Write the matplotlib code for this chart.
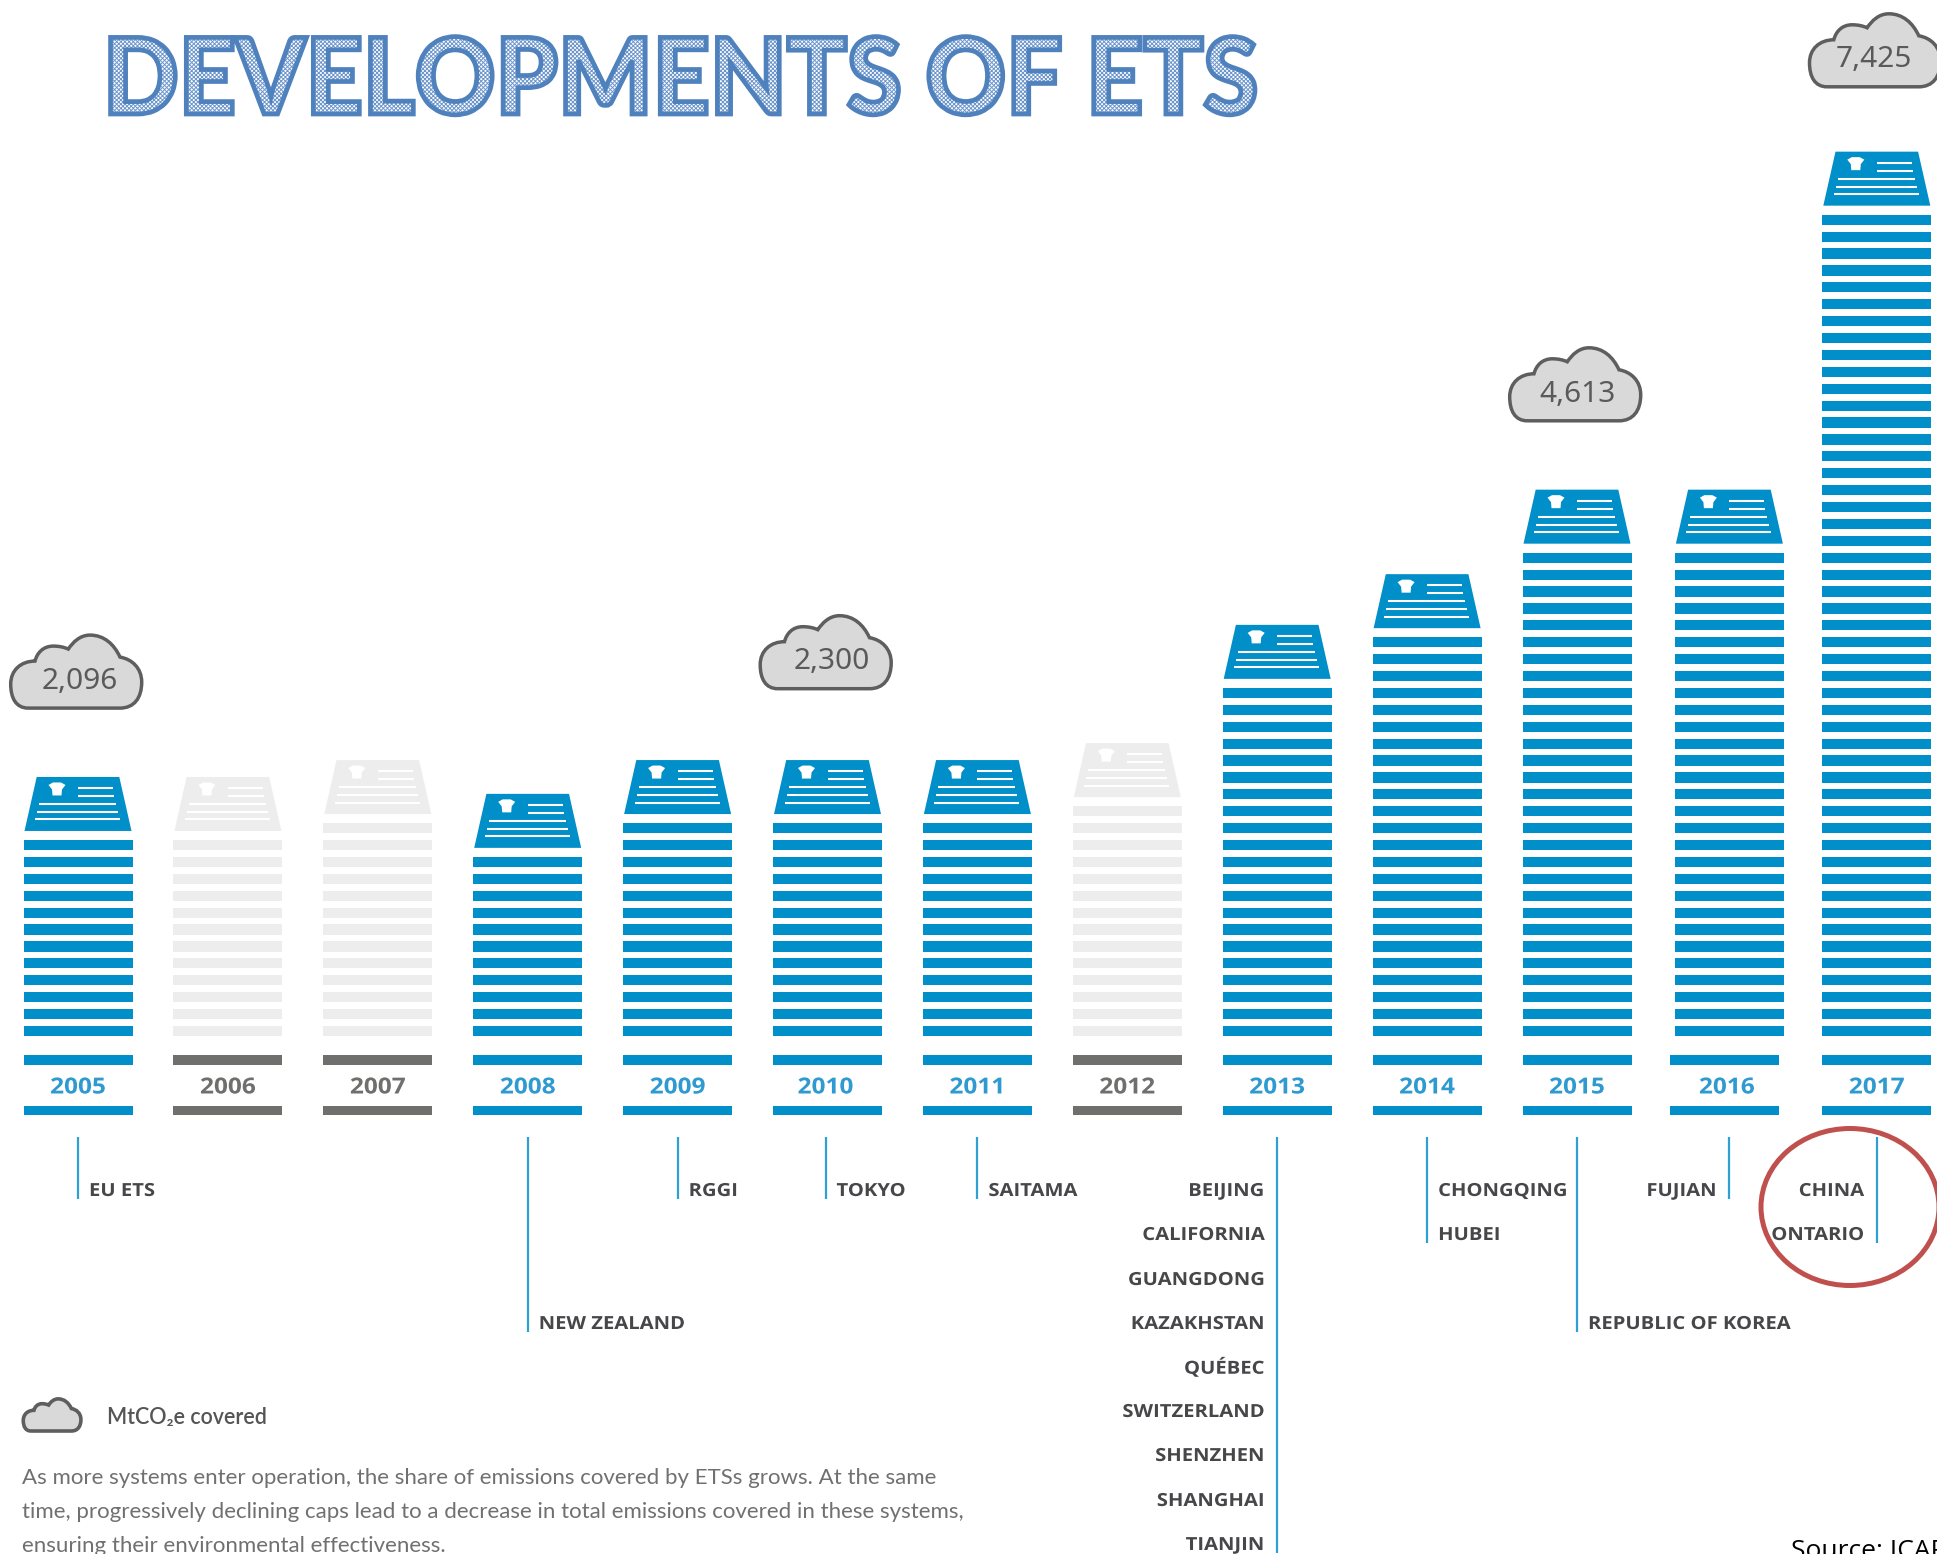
import matplotlib
matplotlib.use("Agg")
import matplotlib.pyplot as plt
import matplotlib.patheffects as pe
from matplotlib.patches import Ellipse, PathPatch, Polygon
from matplotlib.path import Path
from matplotlib.transforms import Affine2D

# datos
years = [2005, 2006, 2007, 2008, 2009, 2010, 2011, 2012, 2013, 2014, 2015, 2016, 2017]
sheets = [12, 12, 13, 11, 13, 13, 13, 14, 21, 24, 29, 29, 49]
covered_years = [2005, 2010, 2015, 2017]
covered_labels = ["2,096", "2,300", "4,613", "7,425"]

systems_2005 = ["EU ETS"]
systems_2008 = ["NEW ZEALAND"]
systems_2009 = ["RGGI"]
systems_2010 = ["TOKYO"]
systems_2011 = ["SAITAMA"]
systems_2013 = ["BEIJING", "CALIFORNIA", "GUANGDONG", "KAZAKHSTAN", "QUÉBEC",
                "SWITZERLAND", "SHENZHEN", "SHANGHAI", "TIANJIN"]
systems_2014 = ["CHONGQING", "HUBEI"]
systems_2015 = ["REPUBLIC OF KOREA"]
systems_2016 = ["FUJIAN"]
systems_2017 = ["CHINA", "ONTARIO"]
new_systems = {2005: systems_2005, 2008: systems_2008, 2009: systems_2009, 2010: systems_2010,
               2011: systems_2011, 2013: systems_2013, 2014: systems_2014, 2015: systems_2015,
               2016: systems_2016, 2017: systems_2017}

BLUE = "#008FC8"
BLUE_TXT = "#2F9AD0"
LIGHT = "#EDEDED"
DARK = "#6F6F6E"
NAME_COL = "#47474A"

# escala: 149.9 px por anio, 16.9 px por hoja
PX_YEAR = 149.9
PX_SHEET = 16.9
X0 = 78
Y0 = 1036
W, H = 1937, 1554

plt.rcParams["hatch.linewidth"] = 0.7

fig = plt.figure(figsize=(W / 100, H / 100), dpi=100)
ax = fig.add_axes([0, 0, 1, 1])
ax.set_xlim(2005 - X0 / PX_YEAR, 2005 + (W - X0) / PX_YEAR)
ax.set_ylim((Y0 - H) / PX_SHEET, Y0 / PX_SHEET)
ax.axis("off")

# capa en pixeles para textos y nubes
px = fig.add_axes([0, 0, 1, 1])
px.set_xlim(0, W)
px.set_ylim(H, 0)
px.axis("off")
px.patch.set_alpha(0)


class ScaleX(pe.AbstractPathEffect):
    # estira el texto a lo ancho, las fuentes del original no estan instaladas
    def __init__(self, sx, x0, inner=None):
        super().__init__()
        self.sx = sx
        self.x0 = x0
        self.inner = inner if inner else pe.Normal()

    def draw_path(self, renderer, gc, tpath, affine, rgbFace=None):
        stretch = Affine2D().translate(-self.x0, 0).scale(self.sx, 1).translate(self.x0, 0)
        self.inner.draw_path(renderer, gc, tpath, affine + stretch, rgbFace)


def year_x(year):
    return X0 + (year - 2005) * PX_YEAR


def draw_sheet(year, n, color):
    # la hoja de arriba de cada pila, medidas en px desde su base
    base = n - 1 + 0.6 + 9 / PX_SHEET

    def pt(dx, dy):
        return (year + dx / PX_YEAR, base + dy / PX_SHEET)

    ax.add_patch(Polygon([pt(-53.5, 0), pt(53.5, 0), pt(41.3, 54), pt(-41.3, 54)],
                         closed=True, fc=color, ec="none"))
    for x1, x2, dy in [(0, 35, 43), (0, 36, 35), (-39, 38, 27), (-41, 40, 19), (-43, 42, 11.5)]:
        ax.plot([year + x1 / PX_YEAR, year + x2 / PX_YEAR],
                [base + dy / PX_SHEET, base + dy / PX_SHEET],
                color="white", lw=1.5, solid_capstyle="butt")
    star = [(-8.5, 4), (-4, 6.5), (4, 6.5), (8.5, 4), (5, -0.5), (4.5, -6.5), (-4.5, -6.5), (-5, -0.5)]
    ax.add_patch(Polygon([pt(x - 21, y + 42) for x, y in star], closed=True, fc="white", ec="none"))


# corrimientos pequenos del original, en px
label_shift = {2010: -2, 2016: 2.5}

for year, n in zip(years, sheets):
    active = year in new_systems
    stripe_col = BLUE if active else LIGHT
    base_col = BLUE if active else DARK
    # 2016 esta un poco corrido en el original
    stack_x = year + (2.5 / PX_YEAR if year == 2016 else 0)
    base_x = year - (2 / PX_YEAR if year == 2016 else 0)
    ax.bar([stack_x] * n, [0.6] * n, width=109 / PX_YEAR, bottom=list(range(n)),
           color=stripe_col, linewidth=0)
    ax.bar(base_x, 9.5 / PX_SHEET, width=109 / PX_YEAR, bottom=(Y0 - 1064.5) / PX_SHEET,
           color=base_col, linewidth=0)
    ax.bar(base_x, 9.5 / PX_SHEET, width=109 / PX_YEAR, bottom=(Y0 - 1115) / PX_SHEET,
           color=base_col, linewidth=0)
    draw_sheet(stack_x, n, stripe_col)
    tx = year_x(year) + (-2 if year == 2010 else 0)
    t = px.text(tx, 1088, str(year), ha="center", va="center", fontsize=16,
                family="Open Sans", fontweight="bold", color=BLUE_TXT if active else DARK)
    t.set_path_effects([ScaleX(1.1, tx)])

# nubes
cloud_verts = [(-47.7, 0), (44, 0),
               (58, 0), (65.7, 10), (65.7, 26),
               (65.7, 40), (56, 49), (44, 51),
               (38, 64), (28, 73), (14, 73),
               (4, 73), (-3, 66), (-7.7, 59),
               (-12, 61), (-17, 62), (-22.7, 62),
               (-33, 62), (-39, 55), (-41, 47),
               (-55, 47), (-65.3, 38), (-65.3, 24),
               (-65.3, 10), (-60, 0), (-47.7, 0)]
cloud_codes = [Path.MOVETO, Path.LINETO] + [Path.CURVE4] * 24
cloud_dy = {2010: -2.5, 2017: 4}
cloud_text_dx = {2005: 2, 2010: 4, 2015: 0, 2017: -3}
cloud_text_dy = {2015: 1}


def draw_cloud(cx, bottom, scale=1.0, lw=2.5):
    verts = [(cx + x * scale, bottom - y * scale) for x, y in cloud_verts]
    px.add_patch(PathPatch(Path(verts, cloud_codes), fc="#D9D9D9", ec="#5E5E5E", lw=lw, clip_on=False))


for year, label in zip(covered_years, covered_labels):
    n = sheets[years.index(year)]
    sheet_top = Y0 - (n - 1) * PX_SHEET - 10 - 9 - 54
    bottom = sheet_top - 69 + cloud_dy.get(year, 0)
    draw_cloud(year_x(year) - 2, bottom)
    px.text(year_x(year) + cloud_text_dx[year], bottom - 27 + cloud_text_dy.get(year, 0), label,
            ha="center", va="center", fontsize=21.5, family="Noto Sans", color="#5A5A5A")

# lineas y nombres de los sistemas
row_y = [1191, 1235, 1280, 1324, 1368, 1412, 1456, 1501, 1545]
first_row = {2008: 3, 2015: 3}
right_side = [2013, 2016, 2017]
for year, names in new_systems.items():
    x = year_x(year) + label_shift.get(year, 0)
    start = first_row.get(year, 0)
    last = start + len(names) - 1
    px.plot([x, x], [1137, min(row_y[last] + 8, H)], color="#2FA0D2", lw=1.6, solid_capstyle="butt")
    for i, name in enumerate(names):
        if year in right_side:
            tx = x - 13
            align = "right"
        else:
            tx = x + 11
            align = "left"
        t = px.text(tx, row_y[start + i], name, ha=align, va="center", fontsize=13,
                    family="Open Sans", fontweight="bold", color=NAME_COL)
        t.set_path_effects([ScaleX(1.12, tx)])

# circulo rojo alrededor de 2017
px.add_patch(Ellipse((1850, 1207), 178, 157, fc="none", ec="#C0504D", lw=3.6, clip_on=False))

# leyenda y nota
draw_cloud(52, 1431, scale=0.44, lw=2.6)
px.text(107, 1418, "MtCO₂e covered", ha="left", va="center", fontsize=15.5,
        family=["Lato", "Noto Sans"], fontweight="semibold", color="#555555")
note_lines = ["As more systems enter operation, the share of emissions covered by ETSs grows. At the same",
              "time, progressively declining caps lead to a decrease in total emissions covered in these systems,",
              "ensuring their environmental effectiveness."]
for y, line in zip([1478, 1512, 1546], note_lines):
    px.text(22, y, line, ha="left", va="center", fontsize=16, family="Lato", color="#707070")

px.text(1791, 1558, "Source: ICAP", ha="left", va="baseline", fontsize=19, family="Open Sans", color="black")

# titulo
title = px.text(103, 114, "DEVELOPMENTS OF ETS", ha="left", va="baseline", fontsize=76,
                family="Lato", fontweight="black", color="#9DB8DC")
title.set_path_effects([
    ScaleX(0.943, 103, pe.PathPatchEffect(facecolor="white", edgecolor="#6D97CC", hatch="xxxxxxxx", linewidth=0)),
    ScaleX(0.943, 103, pe.PathPatchEffect(facecolor="none", edgecolor="#4F81BD", linewidth=3.4)),
])

fig.savefig("out.png", dpi=100, facecolor="white")
